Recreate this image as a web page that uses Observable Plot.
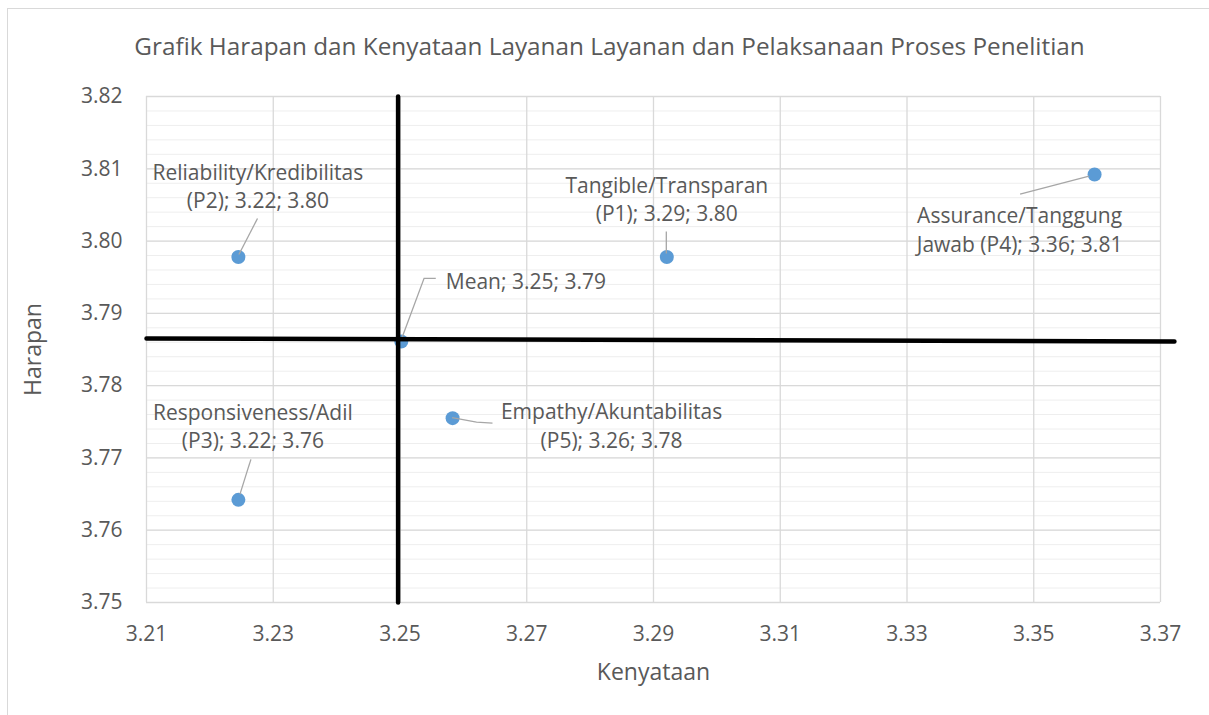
<!DOCTYPE html>
<html>
<head>
<meta charset="utf-8">
<script src="https://cdn.jsdelivr.net/npm/d3@7"></script>
<script src="https://cdn.jsdelivr.net/npm/@observablehq/plot@0.6"></script>
<style>
  html, body { margin: 0; padding: 0; background: #fff; overflow: hidden; }
  #wrap { position: relative; width: 1209px; height: 715px; }
  #border { position: absolute; left: 7px; top: 8px; width: 1220px; height: 720px; border: 1px solid #d9d9d9; box-sizing: border-box; }
  #chart { position: absolute; left: 0; top: 0; }
</style>
</head>
<body>
<div id="wrap"><div id="border"></div><div id="chart"></div></div>
<script>
// ---- data ----
const pointNames = [
  "Tangible/Transparan\n(P1)",
  "Reliability/Kredibilitas\n(P2)",
  "Responsiveness/Adil\n(P3)",
  "Assurance/Tanggung\nJawab (P4)",
  "Empathy/Akuntabilitas\n(P5)",
  "Mean"
];
const kenyataan = [3.2921, 3.2245, 3.2245, 3.3596, 3.2583, 3.2502];
const harapan   = [3.7978, 3.7978, 3.7642, 3.8092, 3.7755, 3.7861];
const labelX = ["3.29", "3.22", "3.22", "3.36", "3.26", "3.25"];
const labelY = ["3.80", "3.80", "3.76", "3.81", "3.78", "3.79"];

const xTicks = [3.21, 3.23, 3.25, 3.27, 3.29, 3.31, 3.33, 3.35, 3.37];
const yTicks = [3.75, 3.76, 3.77, 3.78, 3.79, 3.80, 3.81, 3.82];

// quadrant (mean) lines
const vLineX = [3.2497, 3.2497];
const vLineY = [3.82, 3.75];
const hLineX = [3.21, 3.3722];
const hLineY = [3.78652, 3.78611];

const titleText = "Grafik Harapan dan Kenyataan Layanan Layanan dan Pelaksanaan Proses Penelitian";
const xTitle = "Kenyataan";
const yTitle = "Harapan";

// ---- styles (label placement in pixels, relative to each point) ----
const labelStyle = [
  {dx: 0,   dy: -59, anchor: "middle"},
  {dx: 19.5, dy: -72, anchor: "middle"},
  {dx: 14.5, dy: -75, anchor: "middle"},
  {dx: -75, dy: 54,  anchor: "middle"},
  {dx: 159, dy: 6,   anchor: "middle"},
  {dx: 44.5, dy: -62, anchor: "start"}
];
const leaderStyle = [
  [[0, -3], [0, -25]],
  [[1, -2], [19.6, -38]],
  [[2, -5], [13, -40]],
  [[-5, 2], [-74, 20]],
  [[0, 0], [24.4, 4.4], [40.4, 5.4]],
  [[1.6, -4.3], [23.3, -62.7], [35, -62.7]]
];

const pts = pointNames.map((n, i) => ({
  name: n, x: kenyataan[i], y: harapan[i],
  label: `${n}; ${labelX[i]}; ${labelY[i]}`
}));
const vLine = vLineX.map((x, i) => ({x, y: vLineY[i]}));
const hLine = hLineX.map((x, i) => ({x, y: hLineY[i]}));
const minorY = d3.range(0, 36).map(i => 3.75 + i * 0.002);

const font = "Open Sans";
const textColor = "#595959";

const leaders = (index, scales) => {
  const g = d3.create("svg:g").attr("fill", "none").attr("stroke", "#a6a6a6").attr("stroke-width", 1.3);
  pts.forEach((p, i) => {
    const cx = scales.x(p.x), cy = scales.y(p.y);
    const path = d3.path();
    leaderStyle[i].forEach(([dx, dy], j) => j ? path.lineTo(cx + dx, cy + dy) : path.moveTo(cx + dx, cy + dy));
    g.append("path").attr("d", path.toString());
  });
  return g.node();
};

const chart = Plot.plot({
  width: 1209,
  height: 715,
  marginLeft: 146,
  marginRight: 49,
  marginTop: 96,
  marginBottom: 113,
  style: {fontFamily: font, fontSize: "21px", color: textColor, background: "transparent", overflow: "visible"},
  x: {domain: [3.21, 3.37], label: null},
  y: {domain: [3.75, 3.82], label: null},
  marks: [
    Plot.gridY(minorY, {stroke: "#eeeeee", strokeOpacity: 1, strokeWidth: 1}),
    Plot.gridY(yTicks, {stroke: "#d9d9d9", strokeOpacity: 1, strokeWidth: 1.3}),
    Plot.gridX(xTicks, {stroke: "#d9d9d9", strokeOpacity: 1, strokeWidth: 1.3}),
    Plot.axisY({ticks: yTicks, tickSize: 0, tickPadding: 24, tickFormat: d => d.toFixed(2), fontSize: 21, fill: textColor, label: null}),
    Plot.axisX({ticks: xTicks, tickSize: 0, tickPadding: 24, tickFormat: d => d.toFixed(2), fontSize: 21, fill: textColor, label: null}),
    Plot.dot(pts, {x: "x", y: "y", r: 7, fill: "#5b9bd5", stroke: "none"}),
    Plot.line(vLine, {x: "x", y: "y", stroke: "#000", strokeWidth: 4.5}),
    Plot.line(hLine, {x: "x", y: "y", stroke: "#000", strokeWidth: 4.5}),
    leaders,
    ...pts.map((p, i) => Plot.text([p], {
      x: "x", y: "y", text: "label",
      dx: labelStyle[i].dx, dy: labelStyle[i].dy,
      textAnchor: labelStyle[i].anchor, lineAnchor: "middle", lineHeight: 1.36,
      fontSize: 21, fill: textColor
    })),
    Plot.text([titleText], {frameAnchor: "top", textAnchor: "middle", dx: -44, dy: -49, lineAnchor: "middle", fontSize: 24.3, fill: textColor}),
    Plot.text([xTitle], {frameAnchor: "bottom", textAnchor: "middle", dy: 70, lineAnchor: "middle", fontSize: 23, fill: textColor}),
    Plot.text([yTitle], {frameAnchor: "left", textAnchor: "middle", dx: -113, rotate: -90, lineAnchor: "middle", fontSize: 23, fill: textColor})
  ]
});
document.getElementById("chart").appendChild(chart);
</script>
</body>
</html>
